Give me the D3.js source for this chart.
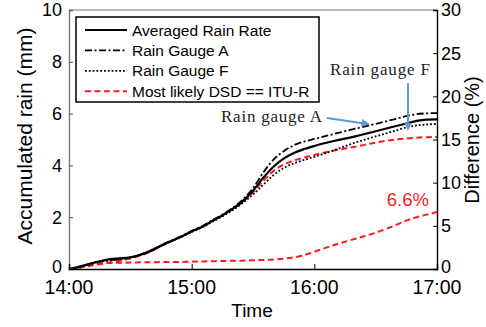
<!DOCTYPE html>
<html>
<head>
<meta charset="utf-8">
<script src="https://cdn.jsdelivr.net/npm/d3@7"></script>
<style>
  html, body { margin: 0; padding: 0; background: #fff; }
  svg { display: block; font-family: "Liberation Sans", Arial, sans-serif; }
</style>
</head>
<body>
<svg id="chart" width="486" height="327"></svg>
<script>
// Minutes after 14:00
const minutes = [0,5,10,15,20,25,30,35,40,45,50,55,60,65,70,75,80,85,90,95,100,105,110,115,120,130,140,150,160,165,170,175,180];

// Accumulated rain (mm)
const avgRain = [0,0.08,0.2,0.3,0.38,0.41,0.45,0.55,0.7,0.9,1.08,1.25,1.45,1.62,1.85,2.07,2.32,2.62,3.02,3.52,3.95,4.26,4.48,4.63,4.75,4.95,5.12,5.32,5.52,5.62,5.72,5.77,5.78];
const gaugeA  = [0,0.07,0.18,0.28,0.34,0.38,0.44,0.56,0.72,0.92,1.1,1.27,1.47,1.65,1.88,2.1,2.36,2.68,3.12,3.72,4.22,4.55,4.78,4.92,5.02,5.22,5.42,5.6,5.8,5.9,5.98,6.01,6.02];
const gaugeF  = [0,0.08,0.19,0.28,0.33,0.38,0.45,0.55,0.7,0.9,1.07,1.24,1.43,1.6,1.82,2.03,2.27,2.55,2.88,3.25,3.62,3.9,4.08,4.21,4.33,4.6,4.88,5.12,5.35,5.47,5.54,5.58,5.6];
const dsdRain = [0,0.05,0.12,0.18,0.25,0.32,0.4,0.52,0.68,0.88,1.07,1.25,1.45,1.62,1.85,2.07,2.31,2.6,2.96,3.4,3.78,4.03,4.19,4.3,4.4,4.58,4.72,4.88,5.0,5.04,5.07,5.09,5.1];

// Difference (%)
const diffPct = [0,0.3,0.55,0.65,0.7,0.72,0.75,0.77,0.78,0.8,0.8,0.82,0.85,0.87,0.9,0.92,0.95,0.97,1.0,1.05,1.1,1.2,1.35,1.6,2.0,2.8,3.5,4.2,5.1,5.6,6.0,6.3,6.6];

const timeTicks = [0, 60, 120, 180];
const timeLabels = ["14:00", "15:00", "16:00", "17:00"];
const leftTicks = [0, 2, 4, 6, 8, 10];
const rightTicks = [0, 5, 10, 15, 20, 25, 30];

const legendNames = ["Averaged Rain Rate", "Rain Gauge A", "Rain Gauge F", "Most likely DSD == ITU-R"];

const svg = d3.select("#chart");
const L = 69, R = 437, T = 10, B = 269;

const x = d3.scaleLinear().domain([0, 180]).range([L, R]);
const yL = d3.scaleLinear().domain([0, 10]).range([B, T]);
const yR = d3.scaleLinear().domain([0, 30]).range([B, T]);

// Series styles
const styles = [
  { vals: avgRain, scale: yL, color: "#000", width: 2.2, dash: null },
  { vals: gaugeA,  scale: yL, color: "#000", width: 1.8, dash: "7,2.5,2,2.5" },
  { vals: gaugeF,  scale: yL, color: "#000", width: 1.8, dash: "1.8,2" },
  { vals: dsdRain, scale: yL, color: "#ff1a1a", width: 2, dash: "6,3.5" }
];

const plot = svg.append("g");

// Curves
function drawSeries(vals, scale, color, width, dash) {
  const line = d3.line()
    .x((d, i) => x(minutes[i]))
    .y(d => scale(d))
    .curve(d3.curveMonotoneX);
  plot.append("path")
    .attr("d", line(vals))
    .attr("fill", "none")
    .attr("stroke", color)
    .attr("stroke-width", width)
    .attr("stroke-dasharray", dash);
}
drawSeries(diffPct, yR, "#ff1a1a", 2, "6,3.5");
[styles[3], styles[2], styles[1], styles[0]].forEach(s => drawSeries(s.vals, s.scale, s.color, s.width, s.dash));

// Frame
svg.append("line").attr("x1", L).attr("x2", R).attr("y1", T).attr("y2", T)
  .attr("stroke", "#777").attr("stroke-width", 1.2);

// Left axis
const axL = svg.append("g").attr("transform", `translate(${L},0)`)
  .call(d3.axisRight(yL).tickValues(leftTicks).tickSize(4).tickFormat(""));
axL.select(".domain").attr("stroke", "#777").attr("stroke-width", 1.4);
axL.selectAll(".tick line").attr("stroke", "#555");
svg.append("g").selectAll("text").data(leftTicks).join("text")
  .attr("x", 62).attr("y", d => d === 0 ? yL(d) - 2 : yL(d)).attr("dy", "0.36em")
  .attr("text-anchor", "end").attr("font-size", 18).attr("fill", "#000")
  .text(d => d);

// Right axis
const axR = svg.append("g").attr("transform", `translate(${R},0)`)
  .call(d3.axisLeft(yR).tickValues(rightTicks).tickSize(4).tickFormat(""));
axR.select(".domain").attr("stroke", "#000").attr("stroke-width", 1.4);
svg.append("g").selectAll("text").data(rightTicks).join("text")
  .attr("x", 441).attr("y", d => d === 0 ? yR(d) - 2 : yR(d)).attr("dy", "0.36em")
  .attr("text-anchor", "start").attr("font-size", 18).attr("fill", "#000")
  .text(d => d);

// Bottom axis
const axB = svg.append("g").attr("transform", `translate(0,${B})`)
  .call(d3.axisTop(x).tickValues(timeTicks).tickSize(5).tickFormat(""));
axB.select(".domain").attr("stroke", "#000").attr("stroke-width", 1.4);
svg.append("g").selectAll("text").data(timeTicks).join("text")
  .attr("x", d => x(d)).attr("y", 294)
  .attr("text-anchor", "middle").attr("font-size", 19.5).attr("fill", "#000")
  .text((d, i) => timeLabels[i]);

// Axis titles
svg.append("text").attr("x", 252).attr("y", 317).attr("text-anchor", "middle")
  .attr("font-size", 19).text("Time");
svg.append("text").attr("transform", "translate(32,136) rotate(-90)")
  .attr("text-anchor", "middle").attr("font-size", 21).text("Accumulated rain (mm)");
svg.append("text").attr("transform", "translate(479,140) rotate(-90)")
  .attr("text-anchor", "middle").attr("font-size", 20).text("Difference (%)");

// Legend
const lg = svg.append("g");
lg.append("rect").attr("x", 76).attr("y", 17).attr("width", 243).attr("height", 85)
  .attr("fill", "#fff").attr("stroke", "#000").attr("stroke-width", 1.5);
legendNames.forEach((name, i) => {
  const yy = 30 + i * 20.4;
  lg.append("line").attr("x1", 85).attr("x2", 127).attr("y1", yy).attr("y2", yy)
    .attr("stroke", styles[i].color).attr("stroke-width", styles[i].width)
    .attr("stroke-dasharray", styles[i].dash);
  lg.append("text").attr("x", 132).attr("y", yy).attr("dy", "0.36em")
    .attr("font-size", 15.5).text(name);
});

// Callouts
const defs = svg.append("defs");
defs.append("marker").attr("id", "arrowhead").attr("viewBox", "0 0 10 10")
  .attr("refX", 8).attr("refY", 5).attr("markerWidth", 4).attr("markerHeight", 4)
  .attr("orient", "auto")
  .append("path").attr("d", "M0,0 L10,5 L0,10 z").attr("fill", "#5b9bd5");

svg.append("text").attr("x", 221).attr("y", 122).attr("font-family", "'Liberation Serif', 'Times New Roman', serif")
  .attr("font-size", 17).attr("fill", "#222").attr("textLength", 101).text("Rain gauge A");
svg.append("text").attr("x", 330).attr("y", 75).attr("font-family", "'Liberation Serif', 'Times New Roman', serif")
  .attr("font-size", 17).attr("fill", "#222").attr("textLength", 100).text("Rain gauge F");

svg.append("line").attr("x1", 327).attr("y1", 118).attr("x2", 368).attr("y2", 124)
  .attr("stroke", "#5b9bd5").attr("stroke-width", 2).attr("marker-end", "url(#arrowhead)");
svg.append("line").attr("x1", 408).attr("y1", 83).attr("x2", 408).attr("y2", 129)
  .attr("stroke", "#5b9bd5").attr("stroke-width", 2).attr("marker-end", "url(#arrowhead)");

// Final difference value label
svg.append("text").attr("x", 429).attr("y", 206).attr("text-anchor", "end")
  .attr("font-size", 18.5).attr("fill", "#ff1a1a").text(diffPct[diffPct.length - 1].toFixed(1) + "%");
</script>
</body>
</html>
